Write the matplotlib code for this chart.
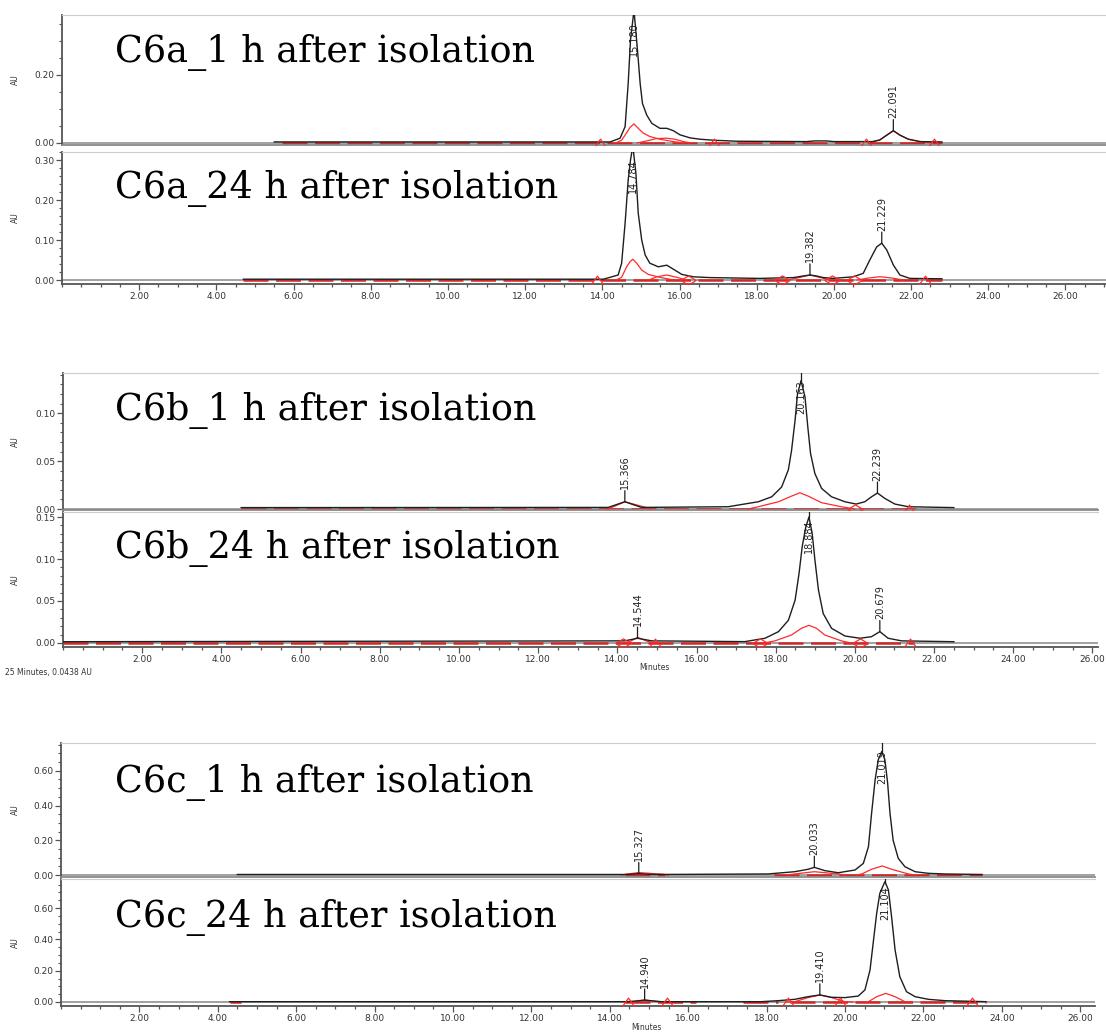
import matplotlib
matplotlib.use("Agg")
import matplotlib.pyplot as plt
from matplotlib.path import Path
from matplotlib.ticker import MultipleLocator, FormatStrFormatter

# ---- C6a, 1 h ----
a1_t = [5.5, 14.20, 14.46, 14.59, 14.67, 14.73, 14.82, 14.91, 14.98, 15.04, 15.15, 15.28, 15.49,
        15.67, 15.84, 16.01, 16.27, 16.53, 16.88, 17.5, 19.3, 19.5, 19.8, 20.0, 21.0, 21.19,
        21.37, 21.54, 21.71, 21.93, 22.23, 22.8]
a1_au = [0.003, 0.003, 0.014, 0.048, 0.175, 0.303, 0.390, 0.274, 0.175, 0.116, 0.082, 0.058, 0.043,
         0.043, 0.036, 0.024, 0.015, 0.011, 0.008, 0.005, 0.004, 0.006, 0.006, 0.004, 0.004, 0.009,
         0.023, 0.036, 0.023, 0.011, 0.004, 0.003]
a1_fits = [
    [[14.35, 14.50, 14.63, 14.72, 14.82, 14.93, 15.06, 15.23, 15.49, 15.84, 16.1],
     [0.0, 0.008, 0.030, 0.046, 0.056, 0.043, 0.029, 0.019, 0.011, 0.004, 0.0]],
    [[14.9, 15.15, 15.41, 15.67, 15.88, 16.1, 16.3],
     [0.0, 0.006, 0.013, 0.014, 0.011, 0.004, 0.0]],
    [[20.9, 21.19, 21.37, 21.54, 21.71, 21.93, 22.23, 22.5],
     [0.0, 0.0085, 0.023, 0.036, 0.023, 0.011, 0.004, 0.0]],
]
a1_base = [(5.7, 22.8)]
a1_caret = [13.94, 16.90, 20.82, 22.59]
a1_diam = []
a1_lab_t = [14.82, 21.54]
a1_lab_au = [0.390, 0.036]
a1_lab = ["15.180", "22.091"]

# ---- C6a, 24 h ----
a2_t = [4.7, 14.03, 14.41, 14.50, 14.59, 14.67, 14.73, 14.79, 14.87, 14.93, 15.02, 15.11, 15.23,
        15.45, 15.67, 15.84, 16.06, 16.36, 16.79, 18.08, 18.95, 19.2, 19.38, 19.55, 19.73, 19.98,
        20.50, 20.76, 20.93, 21.11, 21.24, 21.37, 21.54, 21.71, 21.97, 22.8]
a2_au = [0.002, 0.002, 0.0125, 0.042, 0.142, 0.25, 0.30, 0.335, 0.267, 0.167, 0.10, 0.0625, 0.042,
         0.033, 0.037, 0.027, 0.014, 0.008, 0.006, 0.004, 0.006, 0.010, 0.0125, 0.010, 0.006, 0.004,
         0.008, 0.0167, 0.05, 0.083, 0.092, 0.075, 0.0375, 0.0125, 0.004, 0.003]
a2_fits = [
    [[14.35, 14.50, 14.63, 14.72, 14.79, 14.89, 15.02, 15.19, 15.49, 15.84],
     [0.0, 0.0067, 0.033, 0.046, 0.052, 0.042, 0.025, 0.014, 0.0067, 0.0]],
    [[15.2, 15.41, 15.67, 15.93, 16.18], [0.0, 0.008, 0.0125, 0.0067, 0.0]],
    [[18.8, 19.1, 19.38, 19.65, 19.9], [0.0, 0.006, 0.0125, 0.006, 0.0]],
    [[20.6, 20.9, 21.19, 21.5, 21.8], [0.0, 0.005, 0.0083, 0.005, 0.0]],
]
a2_base = [(4.7, 22.8)]
a2_caret = [13.87, 22.36]
a2_diam = [16.22, 18.66, 19.94, 20.52]
a2_lab_t = [14.79, 19.38, 21.24]
a2_lab_au = [0.335, 0.0125, 0.092]
a2_lab = ["14.784", "19.382", "21.229"]

# ---- C6b, 1 h ----
b1_t = [4.5, 13.77, 14.19, 14.61, 16.80, 17.06, 17.56, 17.90, 18.15, 18.32, 18.40, 18.49, 18.55,
        18.64, 18.74, 18.81, 18.88, 18.99, 19.16, 19.41, 19.75, 20.03, 20.25, 20.42, 20.57, 20.76,
        21.01, 21.35, 22.5]
b1_au = [0.0015, 0.0017, 0.0076, 0.0017, 0.0024, 0.0042, 0.0076, 0.0128, 0.023, 0.041, 0.061, 0.093,
         0.120, 0.134, 0.117, 0.086, 0.058, 0.037, 0.0215, 0.0128, 0.0076, 0.0052, 0.0076, 0.0128,
         0.0167, 0.011, 0.0052, 0.0024, 0.0015]
b1_fits = [
    [[17.3, 17.56, 18.07, 18.40, 18.61, 18.82, 19.16, 19.66, 20.0],
     [0.0, 0.0024, 0.0076, 0.0135, 0.017, 0.0135, 0.0066, 0.0024, 0.0]],
    [[13.75, 13.9, 14.19, 14.66, 14.85], [0.0, 0.0024, 0.0076, 0.0024, 0.0]],
]
b1_base = [(4.5, 21.6)]
b1_caret = [21.37]
b1_diam = [20.0]
b1_lab_t = [18.64, 14.19, 20.57]
b1_lab_au = [0.134, 0.0076, 0.0167]
b1_lab = ["20.163", "15.366", "22.239"]

# ---- C6b, 24 h ----
b2_t = [0.0, 14.19, 14.51, 14.87, 17.22, 17.73, 18.07, 18.32, 18.49, 18.59, 18.67, 18.76, 18.84,
        18.92, 18.99, 19.08, 19.20, 19.41, 19.75, 20.13, 20.42, 20.63, 20.84, 21.18, 22.5]
b2_au = [0.0015, 0.0025, 0.0056, 0.0025, 0.0016, 0.0056, 0.0135, 0.027, 0.051, 0.083, 0.115, 0.138,
         0.150, 0.131, 0.099, 0.063, 0.035, 0.0175, 0.0083, 0.0056, 0.0075, 0.0135, 0.0056, 0.0025,
         0.0015]
b2_fits = [
    [[17.7, 17.98, 18.40, 18.65, 18.84, 19.03, 19.24, 19.66, 19.9],
     [0.0, 0.0025, 0.0095, 0.0175, 0.021, 0.0175, 0.0095, 0.0025, 0.0]],
    [[14.1, 14.28, 14.51, 14.78, 14.95], [0.0, 0.0006, 0.0067, 0.0016, 0.0]],
]
b2_base = [(0.0, 21.5)]
b2_caret = [14.95, 21.39]
b2_diam = [14.15, 17.60, 20.13]
b2_lab_t = [18.84, 14.51, 20.63]
b2_lab_au = [0.150, 0.0056, 0.0135]
b2_lab = ["18.884", "14.544", "20.679"]

# ---- C6c, 1 h ----
c1_t = [4.5, 14.4, 14.74, 15.1, 16.17, 18.04, 18.72, 19.06, 19.22, 19.49, 19.83, 20.26, 20.47,
        20.60, 20.68, 20.77, 20.85, 20.94, 21.02, 21.09, 21.15, 21.23, 21.36, 21.53, 21.79, 22.13,
        22.55, 23.5]
c1_au = [0.003, 0.003, 0.008, 0.003, 0.004, 0.006, 0.019, 0.033, 0.044, 0.025, 0.013, 0.029, 0.067,
         0.163, 0.355, 0.547, 0.663, 0.711, 0.663, 0.528, 0.355, 0.20, 0.096, 0.048, 0.019, 0.0096,
         0.006, 0.003]
c1_fits = [
    [[20.3, 20.43, 20.68, 20.95, 21.19, 21.62, 21.8], [0.0, 0.006, 0.033, 0.052, 0.033, 0.006, 0.0]],
    [[14.3, 14.43, 14.74, 15.32, 15.5], [0.0, 0.005, 0.014, 0.005, 0.0]],
    [[18.5, 18.72, 19.22, 19.83, 20.0], [0.0, 0.006, 0.019, 0.006, 0.0]],
]
c1_base = [(14.4, 15.4), (18.2, 23.5)]
c1_caret = []
c1_diam = []
c1_lab_t = [20.94, 14.74, 19.22]
c1_lab_au = [0.711, 0.008, 0.044]
c1_lab = ["21.019", "15.327", "20.033"]

# ---- C6c, 24 h ----
c2_t = [4.3, 14.47, 14.89, 15.32, 17.87, 18.30, 18.72, 19.06, 19.36, 19.66, 20.0, 20.34, 20.51,
        20.64, 20.72, 20.81, 20.89, 21.02, 21.11, 21.19, 21.28, 21.40, 21.57, 21.79, 22.13, 22.55,
        23.6]
c2_au = [0.002, 0.002, 0.012, 0.002, 0.002, 0.0085, 0.017, 0.034, 0.045, 0.030, 0.028, 0.038, 0.077,
         0.204, 0.375, 0.567, 0.694, 0.769, 0.716, 0.545, 0.332, 0.162, 0.066, 0.034, 0.017, 0.0085,
         0.002]
c2_fits = [
    [[20.45, 20.6, 20.81, 21.04, 21.28, 21.53, 21.7], [0.0, 0.002, 0.034, 0.055, 0.034, 0.002, 0.0]],
    [[18.5, 18.72, 19.06, 19.36, 19.66, 20.0, 20.2], [0.0, 0.002, 0.028, 0.045, 0.028, 0.002, 0.0]],
    [[14.5, 14.64, 14.89, 15.23, 15.4], [0.0, 0.002, 0.013, 0.002, 0.0]],
]
c2_base = [(4.3, 4.6), (14.4, 16.2), (17.4, 18.3), (18.6, 23.6)]
c2_caret = [14.47, 15.45, 18.55, 19.87, 23.25]
c2_diam = []
c2_lab_t = [21.02, 14.89, 19.36]
c2_lab_au = [0.769, 0.012, 0.045]
c2_lab = ["21.104", "14.940", "19.410"]

titles = ["C6a_1 h after isolation", "C6a_24 h after isolation",
          "C6b_1 h after isolation", "C6b_24 h after isolation",
          "C6c_1 h after isolation", "C6c_24 h after isolation"]

W, H = 1106, 1032
caret = Path([(-1, -0.7), (0, 0.7), (1, -0.7)], [Path.MOVETO, Path.LINETO, Path.LINETO])
diamond = Path([(-1, 0), (0, 0.6), (1, 0), (0, -0.6), (-1, 0)],
               [Path.MOVETO, Path.LINETO, Path.LINETO, Path.LINETO, Path.CLOSEPOLY])

panels = [
    dict(t=a1_t, au=a1_au, fits=a1_fits, base=a1_base, car=a1_caret, dia=a1_diam,
         lt=a1_lab_t, ly=a1_lab_au, ls=a1_lab, box=(62, 15, 1106, 145), xmax=27.05,
         ylim=(-0.006, 0.376), major=0.2, minor=0.05, ty=62, xaxis=False),
    dict(t=a2_t, au=a2_au, fits=a2_fits, base=a2_base, car=a2_caret, dia=a2_diam,
         lt=a2_lab_t, ly=a2_lab_au, ls=a2_lab, box=(62, 152, 1106, 284), xmax=27.05,
         ylim=(-0.01, 0.32), major=0.1, minor=0.02, ty=198, xaxis=True),
    dict(t=b1_t, au=b1_au, fits=b1_fits, base=b1_base, car=b1_caret, dia=b1_diam,
         lt=b1_lab_t, ly=b1_lab_au, ls=b1_lab, box=(63, 373, 1098, 510), xmax=26.14,
         ylim=(-0.001, 0.142), major=0.05, minor=0.01, ty=420, xaxis=False),
    dict(t=b2_t, au=b2_au, fits=b2_fits, base=b2_base, car=b2_caret, dia=b2_diam,
         lt=b2_lab_t, ly=b2_lab_au, ls=b2_lab, box=(63, 512, 1098, 647), xmax=26.14,
         ylim=(-0.0048, 0.156), major=0.05, minor=0.01, ty=558, xaxis=True),
    dict(t=c1_t, au=c1_au, fits=c1_fits, base=c1_base, car=c1_caret, dia=c1_diam,
         lt=c1_lab_t, ly=c1_lab_au, ls=c1_lab, box=(61, 743, 1095, 877), xmax=26.38,
         ylim=(-0.0115, 0.76), major=0.2, minor=0.05, ty=792, xaxis=False),
    dict(t=c2_t, au=c2_au, fits=c2_fits, base=c2_base, car=c2_caret, dia=c2_diam,
         lt=c2_lab_t, ly=c2_lab_au, ls=c2_lab, box=(61, 879, 1095, 1006), xmax=26.38,
         ylim=(-0.0256, 0.786), major=0.2, minor=0.05, ty=927, xaxis=True),
]

fig = plt.figure(figsize=(W / 100, H / 100), dpi=100)

for i, p in enumerate(panels):
    l, t, r, b = p["box"]
    ax = fig.add_axes([l / W, 1 - b / H, (r - l) / W, (b - t) / H])
    ax.set_xlim(0, p["xmax"])
    ax.set_ylim(*p["ylim"])
    ax.axhline(0, color="#9a9a9a", lw=1.3, zorder=1)

    for s, e in p["base"]:
        ax.plot([s, e], [0.0, 0.0], color="#d02828", lw=1.8, dashes=(10, 3), zorder=2)
    for ft, fa in p["fits"]:
        ax.plot(ft, fa, color="#ff2a2a", lw=0.9, zorder=3)
    ax.plot(p["t"], p["au"], color="#1e1e1e", lw=1.0, zorder=4)
    if p["car"]:
        ax.plot(p["car"], [0.0] * len(p["car"]), ls="none", marker=caret, ms=9,
                mfc="none", mec="#ff2a2a", mew=0.9, zorder=5)
    if p["dia"]:
        ax.plot(p["dia"], [0.0] * len(p["dia"]), ls="none", marker=diamond, ms=11,
                mfc="none", mec="#ff2a2a", mew=0.9, zorder=5)

    top = p["ylim"][1]
    for pt, py, ps in zip(p["lt"], p["ly"], p["ls"]):
        if py > 0.85 * top:
            ax.plot([pt, pt], [py, top], color="#1e1e1e", lw=0.9, zorder=6)
            ax.annotate(ps, xy=(pt, top), xytext=(0, -5), textcoords="offset points",
                        rotation=90, ha="center", va="top", fontsize=7, color="#222222")
        else:
            ax.annotate("", xy=(pt, py), xytext=(0, 8), textcoords="offset points",
                        arrowprops=dict(arrowstyle="-", lw=0.9, color="#1e1e1e",
                                        shrinkA=0, shrinkB=0))
            ax.annotate(ps, xy=(pt, py), xytext=(0, 9), textcoords="offset points",
                        rotation=90, ha="center", va="bottom", fontsize=7, color="#222222")

    ax.spines["right"].set_visible(False)
    ax.spines["top"].set_color("#cccccc")
    ax.spines["left"].set_color("#555555")
    ax.spines["left"].set_linewidth(1.3)
    ax.spines["bottom"].set_color("#8a8a8a" if not p["xaxis"] else "#555555")
    ax.spines["bottom"].set_linewidth(1.3)

    ax.yaxis.set_major_locator(MultipleLocator(p["major"]))
    ax.yaxis.set_minor_locator(MultipleLocator(p["minor"]))
    ax.yaxis.set_major_formatter(FormatStrFormatter("%.2f"))
    ax.tick_params(axis="y", which="major", length=4, width=0.9, color="#555555",
                   labelsize=6.5, labelcolor="#333333", pad=1.5)
    ax.tick_params(axis="y", which="minor", length=2.5, width=0.8, color="#555555")
    ax.set_ylabel("AU", fontsize=5.5, color="#333333")
    ax.yaxis.set_label_coords((20 - l) / (r - l), 0.5)

    if p["xaxis"]:
        ax.xaxis.set_minor_locator(MultipleLocator(0.5))
        ax.xaxis.set_major_formatter(FormatStrFormatter("%.2f"))
        ax.set_xticks([v for v in range(2, int(p["xmax"]) + 1, 2)])
        ax.tick_params(axis="x", which="major", length=4, width=0.9, color="#555555",
                       labelsize=6.5, labelcolor="#333333", pad=2)
        ax.tick_params(axis="x", which="minor", length=2, width=0.9, color="#555555")
    else:
        ax.tick_params(axis="x", which="both", bottom=False, labelbottom=False)

    fig.text(115 / W, 1 - p["ty"] / H, titles[i], fontsize=26.3, family="DejaVu Serif",
             ha="left", va="baseline", color="black")

fig.text(654 / W, 1 - 668 / H, "Minutes", fontsize=5.5, ha="center", va="center", color="#333333")
fig.text(646 / W, 1 - 1027 / H, "Minutes", fontsize=5.5, ha="center", va="center", color="#333333")
fig.text(5 / W, 1 - 672 / H, "25 Minutes, 0.0438 AU", fontsize=5.5, ha="left", va="center",
         color="#333333")

fig.savefig("out.png", dpi=100)
